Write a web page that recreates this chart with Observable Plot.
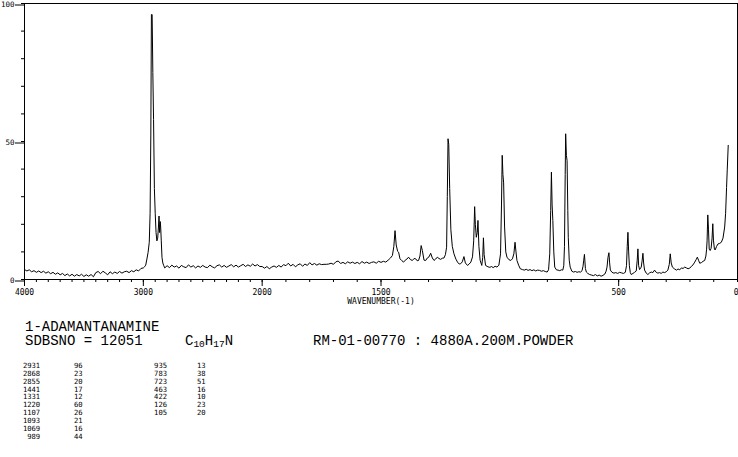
<!DOCTYPE html>
<html><head><meta charset="utf-8">
<script src="https://cdn.jsdelivr.net/npm/d3@7"></script>
<script src="https://cdn.jsdelivr.net/npm/@observablehq/plot@0.6"></script>
<style>
body{margin:0;background:#fff;}
#wrap{position:relative;width:738px;height:457px;overflow:hidden;font-family:"Liberation Mono","DejaVu Sans Mono",monospace;color:#000;background:#fff;}
#wrap svg{position:absolute;left:0;top:0;}
.t{position:absolute;white-space:pre;font-size:14px;line-height:14px;}
.t sub{font-size:9.5px;vertical-align:-2px;line-height:0;}
.s{position:absolute;white-space:pre;font-family:"DejaVu Sans Mono",monospace;font-size:7.2px;line-height:8px;}
</style></head><body><div id="wrap"></div><script>
// ---- data ----
const compoundName = "1-ADAMANTANAMINE";
const sdbsNo = "SDBSNO = 12051";
const formulaParts = [["C","10"],["H","17"],["N",""]];
const sampleInfo = "RM-01-00770 : 4880A.200M.POWDER";
const axisTitle = "WAVENUMBER(-1)";

const xBreak = 2000;          // wavenumber where the axis scale doubles
const xLabelTicks = [4000, 3000, 2000, 1500, 500];
const xEndTick = [0];
const xMinorTicks = d3.range(0, 4001, 100);
const yLabelTicks = [0, 50, 100];
const yMinorTicks = d3.range(0, 101, 10);

const peakWavenumbers = [2931, 2868, 2855, 1441, 1331, 1220, 1107, 1093, 1069, 989, 935, 783, 723, 463, 422, 126, 105];
const peakIntensities = [96, 23, 20, 17, 12, 60, 26, 21, 16, 44, 13, 38, 51, 16, 10, 23, 20];

// Raman spectrum: [wavenumber, intensity]
const spectrum = [
[4000,3.6],[3980,3.1],[3960,3.5],[3940,2.8],[3920,3.2],[3900,2.6],[3880,3.1],[3860,2.5],[3840,3.0],[3820,2.3],
[3800,2.8],[3780,2.1],[3760,2.6],[3740,1.9],[3720,2.4],[3700,1.7],[3680,2.2],[3660,1.4],[3640,2.0],[3620,1.3],
[3600,1.9],[3580,1.2],[3560,1.8],[3540,1.3],[3520,1.9],[3500,1.1],[3480,1.7],[3460,1.2],[3440,1.8],[3420,1.0],
[3400,2.5],[3380,2.9],[3360,2.1],[3340,3.0],[3320,2.4],[3300,1.7],[3280,2.8],[3260,2.1],[3240,2.7],[3220,2.2],
[3200,2.9],[3180,2.3],[3160,2.8],[3140,3.0],[3120,2.5],[3100,3.2],[3080,2.8],[3060,3.5],[3040,3.1],[3020,4.0],
[3000,4.2],[2990,4.6],[2980,5.2],[2970,7.4],[2960,9.8],[2950,13.5],[2943,24],[2937,52],[2932,96],[2926,96],
[2920,75],[2914,58],[2907,33],[2900,24],[2893,17],[2886,14],[2879,15],[2873,19],[2868,23],[2863,17],
[2858,21],[2854,19],[2849,14],[2843,8],[2836,6],[2828,5],[2820,4.2],[2800,5.0],[2780,4.3],[2760,5.2],
[2740,4.5],[2720,4.9],[2700,4.1],[2680,5.1],[2660,4.6],[2640,4.3],[2620,5.3],[2600,4.5],[2580,5.0],[2560,4.2],
[2540,4.9],[2520,4.4],[2500,5.1],[2480,4.5],[2460,4.3],[2440,5.2],[2420,4.6],[2400,4.2],[2380,5.0],[2360,5.3],
[2340,4.5],[2320,5.1],[2300,4.4],[2280,4.9],[2260,5.4],[2240,4.6],[2220,5.2],[2200,4.5],[2180,5.0],[2160,5.5],
[2140,4.7],[2120,5.3],[2100,4.8],[2080,5.6],[2060,4.9],[2040,5.4],[2020,4.7],
[2000,4.7],[1990,4.1],[1980,4.7],[1970,3.9],[1960,4.5],[1950,4.9],[1940,4.4],[1930,5.1],[1920,4.5],[1910,5.4],
[1900,5.0],[1890,5.9],[1880,4.9],[1870,5.5],[1860,4.6],[1850,5.3],[1840,5.7],[1830,4.8],[1820,5.6],[1810,5.1],
[1800,6.1],[1790,5.3],[1780,5.8],[1770,5.2],[1760,5.7],[1750,5.4],[1740,5.5],[1730,5.5],[1720,5.6],[1710,5.9],
[1700,5.5],[1690,6.4],[1680,6.7],[1670,5.8],[1660,6.2],[1650,5.7],[1640,6.4],[1630,5.9],[1620,6.3],[1610,5.8],
[1600,6.2],[1590,5.7],[1580,6.5],[1570,5.9],[1560,6.3],[1550,5.8],[1540,6.2],[1530,6.4],[1520,5.9],[1510,6.6],
[1500,6.2],[1490,6.6],[1480,6.3],[1470,7.0],[1460,7.8],[1452,8.7],[1446,12],[1441,17.7],[1436,12.5],[1430,10.2],
[1426,9.9],[1420,7.5],[1412,6.8],[1405,6.3],[1398,7.0],[1391,7.4],[1384,8.1],[1376,7.2],[1368,6.9],[1361,7.6],
[1354,7.5],[1348,6.8],[1342,6.9],[1336,8.5],[1331,12.3],[1326,10.5],[1319,7.0],[1312,6.9],[1305,7.8],[1298,8.2],
[1291,9.5],[1284,7.8],[1277,6.9],[1270,7.4],[1263,8.1],[1256,7.6],[1249,7.3],[1242,7.7],[1235,7.8],[1229,9.0],
[1224,11.7],[1221,30],[1218,51],[1215,49],[1211,33],[1206,18],[1200,12],[1193,9.3],[1185,7.4],[1178,6.3],
[1171,5.6],[1165,5.7],[1158,6.4],[1151,8.3],[1145,6.0],[1136,5.1],[1129,5.6],[1122,6.3],[1115,8.2],[1110,14],
[1106,26.4],[1103,20],[1099,15.3],[1095,17],[1092,21.4],[1088,12],[1083,7],[1076,5.1],[1072,8],[1069,15.1],
[1066,9],[1060,5.1],[1050,4.6],[1042,4.4],[1035,4.7],[1028,4.3],[1020,4.8],[1012,4.5],[1004,5.2],[997,9.3],
[993,27],[990,45],[987,38],[984,35],[980,19],[975,10],[970,8.1],[962,7.2],[954,6.9],[947,7.5],
[941,9.3],[936,13.5],[932,10],[928,6.9],[921,5.2],[914,3.9],[905,3.6],[897,3.4],[889,3.7],[881,3.3],
[873,3.6],[865,3.2],[857,3.5],[849,3.1],[841,3.4],[833,3.3],[825,3.0],[817,3.2],[809,2.9],[801,2.7],
[795,3.5],[790,9.3],[786,25],[783,38.9],[780,27],[777,21.4],[773,10],[769,4.5],[762,3.5],[755,3.4],
[748,3.2],[741,3.5],[735,3.4],[731,5.0],[728,12],[725,38],[723,52.8],[720,45],[717,43],[714,25],
[712,15.3],[708,7],[704,4.5],[697,3.0],[690,2.7],[682,2.9],[675,2.6],[668,2.8],[660,2.7],[654,3.2],
[650,4.8],[647,7],[644,9.1],[640,4.0],[636,2.7],[630,2.2],[622,1.8],[614,1.6],[606,1.4],[598,1.8],
[590,1.3],[582,1.6],[574,1.2],[566,1.5],[558,2.0],[553,3.0],[549,4.5],[545,8],[541,9.7],[538,6],
[535,3.4],[528,2.6],[520,2.3],[512,2.5],[504,2.2],[496,2.6],[488,2.4],[480,2.2],[472,2.6],[467,5],
[464,12],[461,17.1],[458,10],[455,5],[451,2.5],[447,1.8],[440,2.2],[433,2.6],[426,3.1],[422,7],
[419,11.1],[416,5],[412,3.6],[405,4.5],[401,7],[398,9.5],[395,6],[391,3.4],[384,2.3],[377,1.8],
[370,2.4],[363,2.7],[356,2.5],[349,3.4],[342,2.6],[335,2.3],[328,2.5],[321,2.2],[314,2.7],[307,2.5],
[300,2.8],[293,3.4],[287,5.5],[283,9.3],[279,6],[274,4.5],[266,3.9],[257,3.4],[250,3.8],[243,3.5],
[236,4.2],[229,4.0],[222,4.5],[215,4.2],[208,3.9],[201,4.1],[194,4.8],[187,5.3],[180,6.3],[174,7.2],
[169,8.1],[164,7],[159,5.9],[152,6.1],[145,6.6],[138,6.9],[133,8.5],[130,11],[128,14],[125,23.4],
[122,18],[119,11],[115,10.5],[111,11.3],[107,15],[104,20.2],[101,14],[97,11],[94,10.7],[88,12],
[82,12.9],[75,13.1],[68,13.5],[61,15],[54,19],[50,24],[46,33.4],[43,40],[39,48.6]
];

// Axis position: 4000–2000 is drawn at half the scale of 2000–0 (as on the original record).
const axisPos = wn => wn >= xBreak ? (4000 - wn) / 2000 : 1 + (xBreak - wn) / 1000;
const axisWn = u => u <= 1 ? 4000 - u * 2000 : xBreak - (u - 1) * 1000;
const wnFormat = u => String(Math.round(axisWn(u)));

// ---- chart ----
const W = 738, H = 310;
const chart = Plot.plot({
  width: W, height: H,
  marginLeft: 24, marginRight: 1, marginTop: 3, marginBottom: 31,
  style: {fontFamily: "DejaVu Sans Mono", fontSize: "8px", background: "transparent", color: "black", overflow: "visible"},
  x: {domain: [0, 3]},
  y: {domain: [0, 100]},
  marks: [
    Plot.axisY({ticks: yMinorTicks, tickSize: 3, text: null, label: null, stroke: "black"}),
    Plot.axisY({ticks: yLabelTicks, tickSize: 9, tickPadding: 1, tickFormat: "d", label: null, dy: 1.5, fontSize: 7.5, stroke: "black"}),
    Plot.axisX({ticks: xMinorTicks.map(axisPos), tickSize: 3, text: null, label: null, stroke: "black"}),
    Plot.axisX({ticks: xLabelTicks.map(axisPos), tickSize: 7, tickPadding: 3,
      tickFormat: wnFormat, label: axisTitle,
      labelAnchor: "center", labelArrow: "none", labelOffset: 24, stroke: "black"}),
    Plot.axisX({ticks: xEndTick.map(axisPos), tickSize: 7, tickPadding: 3,
      tickFormat: wnFormat, textAnchor: "end", dx: 1, label: null, stroke: "black"}),
    Plot.frame({stroke: "black"}),
    Plot.line(spectrum, {x: d => axisPos(d[0]), y: d => d[1], stroke: "black", strokeWidth: 1})
  ]
});
const wrap = document.getElementById("wrap");
wrap.appendChild(chart);

// ---- captions ----
function addText(cls, left, top, html, extra) {
  const d = document.createElement("div");
  d.className = cls;
  d.style.left = left + "px";
  d.style.top = top + "px";
  if (extra) Object.assign(d.style, extra);
  d.innerHTML = html;
  wrap.appendChild(d);
}
addText("t", 25, 319.5, compoundName);
addText("t", 25, 334, sdbsNo);
addText("t", 185, 334, formulaParts.map(([e, n]) => e + (n ? "<sub>" + n + "</sub>" : "")).join(""));
addText("t", 313, 334, sampleInfo);

// peak table: two blocks of rows
const rowsPerBlock = 10;
peakWavenumbers.forEach((wn, i) => {
  const block = Math.floor(i / rowsPerBlock), row = i % rowsPerBlock;
  const top = 362 + row * 7.87;
  const baseX = block === 0 ? 23 : 151.5;
  addText("s", baseX - 10, top, String(wn), {width: (block === 0 ? 27.2 : 25.6) + "px", textAlign: "right"});
  addText("s", baseX + (block === 0 ? 51 : 45.5), top, String(peakIntensities[i]));
});
</script></body></html>
